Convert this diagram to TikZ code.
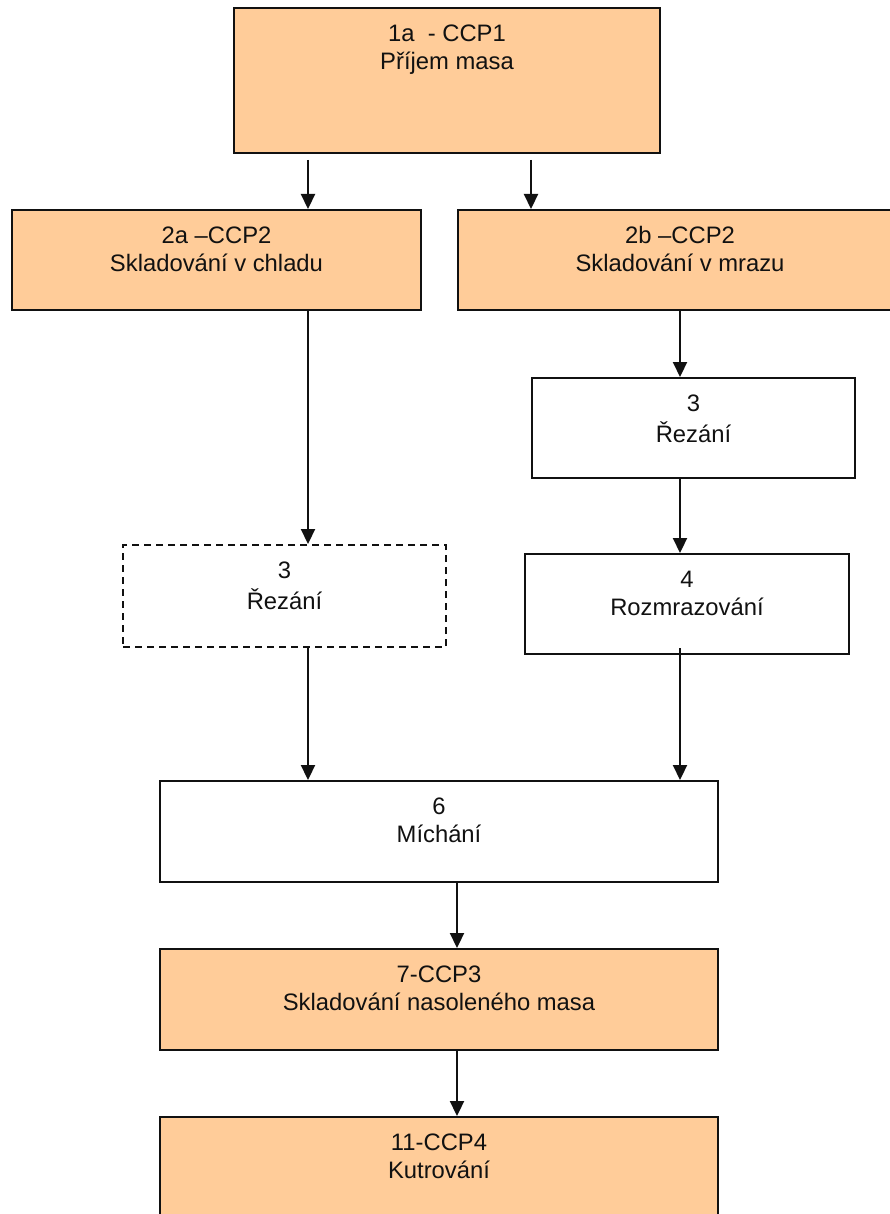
\documentclass[tikz,border=0pt]{standalone}
\usepackage{fontspec}
\setmainfont{Liberation Sans}
\usetikzlibrary{arrows.meta}
\definecolor{peach}{HTML}{FFCC99}
\definecolor{ink}{HTML}{111111}
\tikzset{
  stepbox/.style={draw=ink, line width=2pt, rectangle, inner sep=0pt, anchor=north west},
  ccp/.style={stepbox, fill=peach},
  plain/.style={stepbox, fill=white},
  optional/.style={stepbox, fill=white, dash pattern=on 7pt off 5pt},
  lbl/.style={anchor=north, inner sep=0pt, align=center, text=ink,
    font={\fontsize{23.8}{28}\selectfont}},
  flow/.style={draw=ink, line width=2.2pt, -{Triangle[length=15pt,width=14pt]}},
}
\newcommand{\boxat}[6]{% style, name, x1, y1, x2, y2
  \node[#1, minimum width=#5pt-#3pt, minimum height=#6pt-#4pt] (#2) at (#3,#4) {};}
\begin{document}
\begin{tikzpicture}[x=1pt, y=-1pt]
  \useasboundingbox (0,0) rectangle (890,1214);
  \clip (0,0) rectangle (890,1214);
  \fill[white] (0,0) rectangle (890,1214);

  % process steps
  \boxat{ccp}{n1}{233}{7}{659}{152}
  \boxat{ccp}{n2a}{11}{209}{420}{309}
  \boxat{ccp}{n2b}{457}{209}{901}{309}
  \boxat{plain}{n3r}{531}{377}{854}{477}
  \boxat{optional}{n3l}{122}{544}{445}{646}
  \boxat{plain}{n4}{524}{553}{848}{653}
  \boxat{plain}{n6}{159}{780}{717}{881}
  \boxat{ccp}{n7}{159}{948}{717}{1049}
  \boxat{ccp}{n11}{159}{1116}{717}{1222}

  % step labels
  \node[lbl] (t1)  at ([yshift=-15pt]n1.north)  {\strut 1a\ \ - CCP1\\Příjem masa};
  \node[lbl] (t2a) at ([yshift=-15pt]n2a.north) {\strut 2a –CCP2\\Skladování v chladu};
  \node[lbl] (t2b) at ([yshift=-15pt]n2b.north) {\strut 2b –CCP2\\Skladování v mrazu};
  \node[lbl] (t3r) at ([yshift=-15pt]n3r.north) {\strut 3\\Řezání};
  \node[lbl] (t3l) at ([yshift=-15pt]n3l.north) {\strut 3\\Řezání};
  \node[lbl] (t4)  at ([yshift=-15pt]n4.north)  {\strut 4\\Rozmrazování};
  \node[lbl] (t6)  at ([yshift=-15pt]n6.north)  {\strut 6\\Míchání};
  \node[lbl] (t7)  at ([yshift=-15pt]n7.north)  {\strut 7-CCP3\\Skladování nasoleného masa};
  \node[lbl] (t11) at ([yshift=-15pt]n11.north) {\strut 11-CCP4\\Kutrování};

  % flow connectors
  \draw[flow] (308,0 |- n1.south) ++(0,6) -- (308,0 |- n2a.north);
  \draw[flow] (531,0 |- n1.south) ++(0,6) -- (531,0 |- n2b.north);
  \draw[flow] (308,0 |- n2a.south) -- (308,0 |- n3l.north);
  \draw[flow] (680,0 |- n2b.south) -- (680,0 |- n3r.north);
  \draw[flow] (680,0 |- n3r.south) -- (680,0 |- n4.north);
  \draw[flow] (308,0 |- n3l.south) -- (308,0 |- n6.north);
  \draw[flow] (680,0 |- n4.south) ++(0,-7) -- (680,0 |- n6.north);
  \draw[flow] (457,0 |- n6.south) -- (457,0 |- n7.north);
  \draw[flow] (457,0 |- n7.south) -- (457,0 |- n11.north);
\end{tikzpicture}
\end{document}
